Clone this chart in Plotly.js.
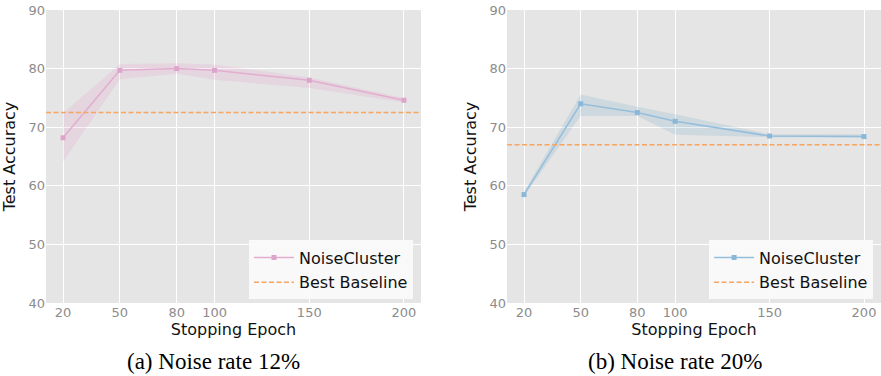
<!DOCTYPE html>
<html>
<head>
<meta charset="utf-8">
<script src="https://cdn.plot.ly/plotly-3.0.1.min.js"></script>
<style>html,body{margin:0;padding:0;background:#fff;}#chart{width:881px;height:376px;}</style>
</head>
<body>
<div id="chart"></div>
<script>
// ---- data ----
const epochs = [20, 50, 80, 100, 150, 200];
const tickLabels = ["20", "50", "80", "100", "150", "200"];

const acc12 = [68.2, 79.7, 80.0, 79.7, 78.0, 74.6];
const upper12 = [72.4, 80.8, 80.9, 80.7, 78.5, 75.0];
const lower12 = [64.1, 78.2, 79.1, 78.1, 76.7, 74.2];
const baseline12 = 72.5;

const acc20 = [58.5, 74.0, 72.5, 71.0, 68.5, 68.4];
const upper20 = [59.0, 75.6, 73.5, 72.2, 68.8, 68.8];
const lower20 = [58.2, 71.9, 71.9, 68.7, 68.3, 68.2];
const baseline20 = 67.0;

const xRange = [11, 209];
const yRange = [40, 90];
const captions = ["(a) Noise rate 12%", "(b) Noise rate 20%"];

// ---- styles ----
const pinkLine = 'rgb(226,174,207)';
const pinkMarker = 'rgb(221,165,203)';
const pinkFill = 'rgba(227,119,194,0.14)';
const blueLine = 'rgb(148,190,220)';
const blueMarker = 'rgb(140,184,216)';
const blueFill = 'rgba(31,119,180,0.11)';
const orange = 'rgb(247,166,98)';

function makeTraces(acc, up, lo, base, lineColor, markerColor, fillColor, xa, ya, leg) {
  return [
    {x: epochs, y: lo, type: 'scatter', mode: 'lines', line: {width: 0, color: fillColor},
     xaxis: xa, yaxis: ya, showlegend: false, hoverinfo: 'skip'},
    {x: epochs, y: up, type: 'scatter', mode: 'lines', line: {width: 0, color: fillColor},
     fill: 'tonexty', fillcolor: fillColor, xaxis: xa, yaxis: ya, showlegend: false, hoverinfo: 'skip'},
    {x: epochs, y: acc, type: 'scatter', mode: 'lines+markers', name: 'NoiseCluster',
     line: {color: lineColor, width: 1.5}, marker: {symbol: 'square', size: 5, color: markerColor},
     xaxis: xa, yaxis: ya, legend: leg, legendgroup: 'a' + leg},
    {x: xRange, y: [base, base], type: 'scatter', mode: 'lines', name: 'Best Baseline',
     line: {color: orange, width: 1.4, dash: '5px,2.5px'}, xaxis: xa, yaxis: ya, legend: leg, legendgroup: 'b' + leg}
  ];
}

const data = [].concat(
  makeTraces(acc12, upper12, lower12, baseline12, pinkLine, pinkMarker, pinkFill, 'x', 'y', 'legend'),
  makeTraces(acc20, upper20, lower20, baseline20, blueLine, blueMarker, blueFill, 'x2', 'y2', 'legend2')
);

const font = 'DejaVu Sans, sans-serif';
function xaxis(domain, anchor) {
  return {domain: domain, anchor: anchor, range: xRange, tickvals: epochs, ticktext: tickLabels,
    showgrid: true, gridcolor: '#ffffff', gridwidth: 1, zeroline: false, showline: false,
    ticks: '', tickfont: {family: font, size: 13, color: '#8c8c8c'},
    title: {text: 'Stopping Epoch', font: {family: font, size: 16, color: '#111'}, standoff: 4},
    automargin: false, fixedrange: true};
}
function yaxis(anchor) {
  return {domain: [0, 1], anchor: anchor, range: yRange, tickvals: [40, 50, 60, 70, 80, 90],
    showgrid: true, gridcolor: '#ffffff', gridwidth: 1, zeroline: false, showline: false,
    ticks: '', tickfont: {family: font, size: 13, color: '#8c8c8c'},
    title: {text: 'Test Accuracy', font: {family: font, size: 16, color: '#111'}, standoff: 8},
    automargin: false, fixedrange: true};
}
const legendStyle = (x) => ({x: x, xanchor: 'right', y: 0.012, yanchor: 'bottom',
  bgcolor: 'rgba(250,250,250,0.96)', bordercolor: 'rgba(0,0,0,0)', borderwidth: 0,
  font: {family: font, size: 16, color: '#111'}, itemwidth: 40, tracegroupgap: 1,
  traceorder: 'grouped'});

const layout = {
  width: 881, height: 376,
  margin: {l: 0, r: 0, t: 10, b: 73},
  paper_bgcolor: '#ffffff',
  plot_bgcolor: '#e5e5e5',
  showlegend: true,
  xaxis: xaxis([0.0522, 0.4779], 'y'),
  yaxis: yaxis('x'),
  xaxis2: xaxis([0.5755, 1.0], 'y2'),
  yaxis2: yaxis('x2'),
  legend: legendStyle(0.4688),
  legend2: legendStyle(0.991),
  annotations: [
    {text: captions[0], xref: 'paper', yref: 'paper', x: 0.2429, y: -0.2, xanchor: 'center', yanchor: 'middle',
     showarrow: false, font: {family: 'Liberation Serif, Times New Roman, serif', size: 23, color: '#000'}},
    {text: captions[1], xref: 'paper', yref: 'paper', x: 0.7664, y: -0.2, xanchor: 'center', yanchor: 'middle',
     showarrow: false, font: {family: 'Liberation Serif, Times New Roman, serif', size: 23, color: '#000'}}
  ]
};

Plotly.newPlot('chart', data, layout, {displayModeBar: false, staticPlot: true});
</script>
</body>
</html>
